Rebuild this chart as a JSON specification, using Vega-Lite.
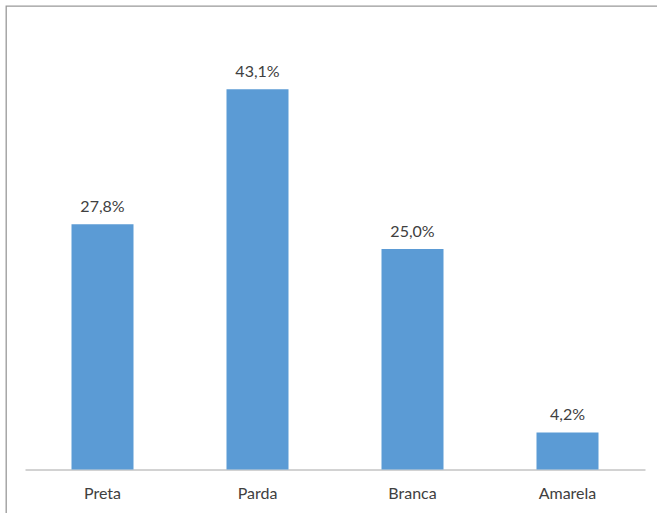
{
  "$schema": "https://vega.github.io/schema/vega-lite/v6.json",
  "width": 651,
  "height": 507,
  "padding": {"left": 6, "top": 6, "right": 0, "bottom": 0},
  "autosize": {"type": "none"},
  "background": "white",
  "config": {
    "view": {"stroke": "#999999", "strokeWidth": 1.3, "strokeDash": [651, 1158, 507, 0]},
    "font": "Lato",
    "locale": {
      "number": {"decimal": ",", "thousands": ".", "grouping": [3], "currency": ["R$", ""]}
    }
  },
  "data": {
    "values": [
      {"cor": "Preta", "valor": 0.278},
      {"cor": "Parda", "valor": 0.431},
      {"cor": "Branca", "valor": 0.25},
      {"cor": "Amarela", "valor": 0.042}
    ]
  },
  "encoding": {
    "x": {
      "field": "cor",
      "type": "nominal",
      "sort": null,
      "scale": {"range": [19, 639], "paddingInner": 0.6, "paddingOuter": 0.3},
      "axis": {
        "title": null,
        "labelAngle": 0,
        "ticks": false,
        "domainColor": "#A6A6A6",
        "domainWidth": 1,
        "labelFontSize": 16,
        "labelColor": "#404040",
        "labelPadding": 16,
        "offset": -43.5
      }
    },
    "y": {
      "field": "valor",
      "type": "quantitative",
      "scale": {"domain": [0, 0.5], "range": [463.5, 22.5]},
      "axis": null
    }
  },
  "layer": [
    {"mark": {"type": "bar", "color": "#5B9BD5"}},
    {
      "mark": {"type": "text", "dy": -12, "baseline": "alphabetic", "fontSize": 16, "color": "#404040"},
      "encoding": {"text": {"field": "valor", "type": "quantitative", "format": ".1%"}}
    }
  ]
}
